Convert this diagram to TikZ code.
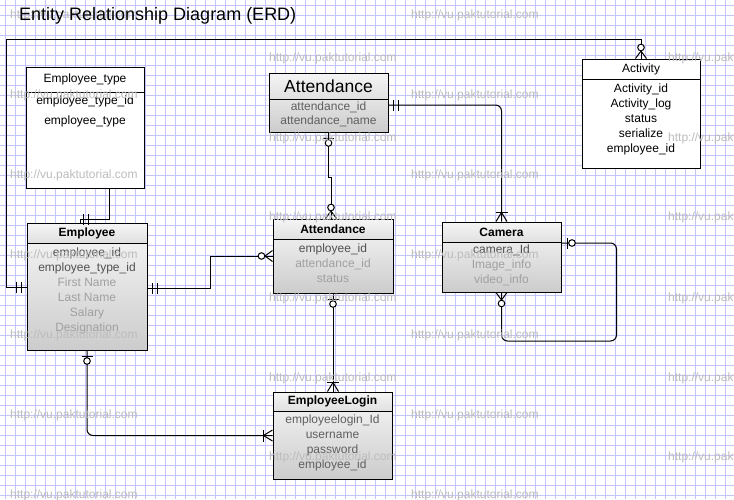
\documentclass[tikz,border=0pt]{standalone}
\usepackage{fontspec}
\setmainfont{Liberation Sans}
\usepackage{xcolor}
\usepackage{tikz}
\usetikzlibrary{positioning, calc, decorations.markings}
\definecolor{gridblue}{RGB}{196,196,252}
\definecolor{attrdark}{RGB}{80,80,80}
\definecolor{attrmid}{RGB}{95,95,95}
\definecolor{attrlight}{RGB}{160,160,160}
\definecolor{wmgray}{RGB}{188,188,188}
\tikzstyle{gridline} = [gridblue, line width=0.7pt]
\tikzstyle{plainbox} = [rectangle, inner sep=0pt, draw=black, line width=1pt, fill=white]
\tikzstyle{shadedbox} = [rectangle, inner sep=0pt, draw=black, line width=1pt, top color=white!97!black, bottom color=white!80!black]
\tikzstyle{plainhead} = [rectangle, inner sep=0pt, draw=black, line width=1pt, fill=white, font=\fontsize{12}{14}\selectfont]
\tikzstyle{shadedhead} = [rectangle, inner sep=0pt, draw=black, line width=1pt, top color=white!96!black, bottom color=white!88!black, font=\bfseries\fontsize{12}{14}\selectfont]
\tikzstyle{attrs} = [inner sep=0pt, align=center, anchor=north, font=\fontsize{12}{15}\selectfont, execute at begin node=\strut]
\tikzstyle{watermark} = [anchor=west, inner sep=0pt, text=wmgray, font=\fontsize{12}{14}\selectfont]
\tikzstyle{conn} = [draw=black, line width=1pt]
\tikzstyle{tick} = [draw=black, line width=1pt]
\tikzstyle{onestart} = [postaction={decorate, decoration={markings,
    mark=at position 5pt with {\draw[tick] (0,-5.5pt) -- (0,5.5pt);},
    mark=at position 10pt with {\draw[tick] (0,-5.5pt) -- (0,5.5pt);}}}]
\tikzstyle{oneend} = [postaction={decorate, decoration={markings,
    mark=at position -6pt with {\draw[tick] (0,-5.5pt) -- (0,5.5pt);},
    mark=at position -11pt with {\draw[tick] (0,-5.5pt) -- (0,5.5pt);}}}]
\tikzstyle{zonestart} = [postaction={decorate, decoration={markings,
    mark=at position 6pt with {\draw[tick] (0,-5.5pt) -- (0,5.5pt);},
    mark=at position 10.5pt with {\draw[tick, fill=white] (0,0) circle (3.3pt);}}}]
\tikzstyle{zmanyend} = [postaction={decorate, decoration={markings,
    mark=at position -11pt with {\draw[tick, fill=white] (0,0) circle (3.3pt);},
    mark=at position -7.5pt with {\draw[tick] (0,0) -- (7.5pt,5.5pt) (0,0) -- (7.5pt,-5.5pt);}}}]
\tikzstyle{omanyend} = [postaction={decorate, decoration={markings,
    mark=at position -9.5pt with {\draw[tick] (0,-6pt) -- (0,6pt);},
    mark=at position -9pt with {\draw[tick] (0,0) -- (9pt,5.5pt) (0,0) -- (9pt,-5.5pt);}}}]

\begin{document}
\begin{tikzpicture}[x=1pt, y=-1pt]
    \useasboundingbox (0,0) rectangle (734,499);
    \clip (0,0) rectangle (734,499);
    \fill[white] (0,0) rectangle (734,499);
    \foreach \gx in {5,15,...,735} \draw[gridline] (\gx,0) -- (\gx,499);
    \foreach \gy in {5,15,...,505} \draw[gridline] (0,\gy) -- (734,\gy);

    \node (ettype) [plainbox, minimum width=118pt, minimum height=121pt] at (85,127.5) {};
    \node (ettypehd) [plainhead, minimum width=118pt, minimum height=25pt, anchor=north] at (ettype.north) {Employee\_type};
    \node (ettypeat) [attrs, below=3.5pt of ettypehd] {employee\_type\_id\\[5pt]employee\_type};

    \node (atttop) [shadedbox, minimum width=119pt, minimum height=59pt] at (328.5,102.5) {};
    \node (atttophd) [shadedhead, font=\fontsize{17.5}{20}\selectfont, minimum width=119pt, minimum height=26pt, anchor=north] at (atttop.north) {Attendance};
    \node (atttopat) [attrs, text=attrmid, below=2.5pt of atttophd] {attendance\_id\\[-1pt]attendance\_name};

    \node (act) [plainbox, minimum width=118pt, minimum height=109pt] at (641,113.5) {};
    \node (acthd) [plainhead, minimum width=118pt, minimum height=20pt, anchor=north] at (act.north) {Activity};
    \node (actat) [attrs, below=4.5pt of acthd] {Activity\_id\\Activity\_log\\status\\serialize\\employee\_id};

    \node (emp) [shadedbox, minimum width=120pt, minimum height=127pt] at (87,286.5) {};
    \node (emphd) [shadedhead, minimum width=120pt, minimum height=20pt, anchor=north] at (emp.north) {Employee};
    \node (empat) [attrs, text=attrlight, below=4.5pt of emphd] {\textcolor{attrdark}{employee\_id}\\\textcolor{attrdark}{employee\_type\_id}\\First Name\\Last Name\\Salary\\Designation};

    \node (att) [shadedbox, minimum width=120pt, minimum height=74pt] at (333,256) {};
    \node (atthd) [shadedhead, minimum width=120pt, minimum height=20pt, anchor=north] at (att.north) {Attendance};
    \node (attat) [attrs, text=attrlight, below=4.5pt of atthd] {\textcolor{attrdark}{employee\_id}\\attendance\_id\\status};

    \node (cam) [shadedbox, minimum width=119pt, minimum height=70pt] at (501.5,257) {};
    \node (camhd) [shadedhead, minimum width=119pt, minimum height=20pt, anchor=north] at (cam.north) {Camera};
    \node (camat) [attrs, text=attrlight, below=2.5pt of camhd] {\textcolor{attrdark}{camera\_Id}\\Image\_info\\video\_info};

    \node (elog) [shadedbox, minimum width=119pt, minimum height=87pt] at (332.5,435.5) {};
    \node (eloghd) [shadedhead, minimum width=119pt, minimum height=19pt, anchor=north] at (elog.north) {EmployeeLogin};
    \node (elogat) [attrs, text=attrmid, below=3.5pt of eloghd] {employeelogin\_Id\\username\\password\\employee\_id};

    \draw [conn, oneend] ($(ettype.south)+(24,0)$) |- ($(emp.north)+(-7,-3)$) -- ($(emp.north)+(-7,0)$);
    \draw [conn, rounded corners=6pt, onestart, omanyend] ($(atttop.east)+(0,2.5)$) -| (cam.north);
    \draw [conn, zonestart, zmanyend] (atttop.south) -- ++(0,45) -| ($(att.north)+(-2,0)$);
    \draw [conn, onestart, zmanyend] ($(emp.east)+(0,1.5)$) -- ++(63,0) |- (att.west);
    \draw [conn, onestart, zmanyend] ($(emp.west)+(0,0.5)$) -- ++(-20,0) -- ++(0,-248) -| (act.north);
    \draw [conn, rounded corners=6pt, zonestart, zmanyend] ($(cam.east)+(0,-14)$) -- ++(55,0) -- ++(0,98) -| (cam.south);
    \draw [conn, zonestart, omanyend] (att.south) -- (att.south |- elog.north);
    \draw [conn, rounded corners=6pt, zonestart, omanyend] (emp.south) |- (elog.west);

    \foreach \wx/\wy [count=\i] in {10/15, 411/15, 10/95, 411/95, 10/175, 411/175, 10/255, 411/255, 10/335, 411/335, 10/415, 411/415, 10/495, 411/495, 269/58, 668/58, 269/138, 668/138, 269/217, 668/217, 269/298, 668/298, 269/378, 668/378, 269/457, 668/457}
        \node (wm\i) [watermark] at (\wx,\wy) {http://vu.paktutorial.com};

    \node (title) [anchor=base west, inner sep=0pt, font=\fontsize{18}{20}\selectfont] at (19,20.5) {Entity Relationship Diagram (ERD)};
\end{tikzpicture}
\end{document}
